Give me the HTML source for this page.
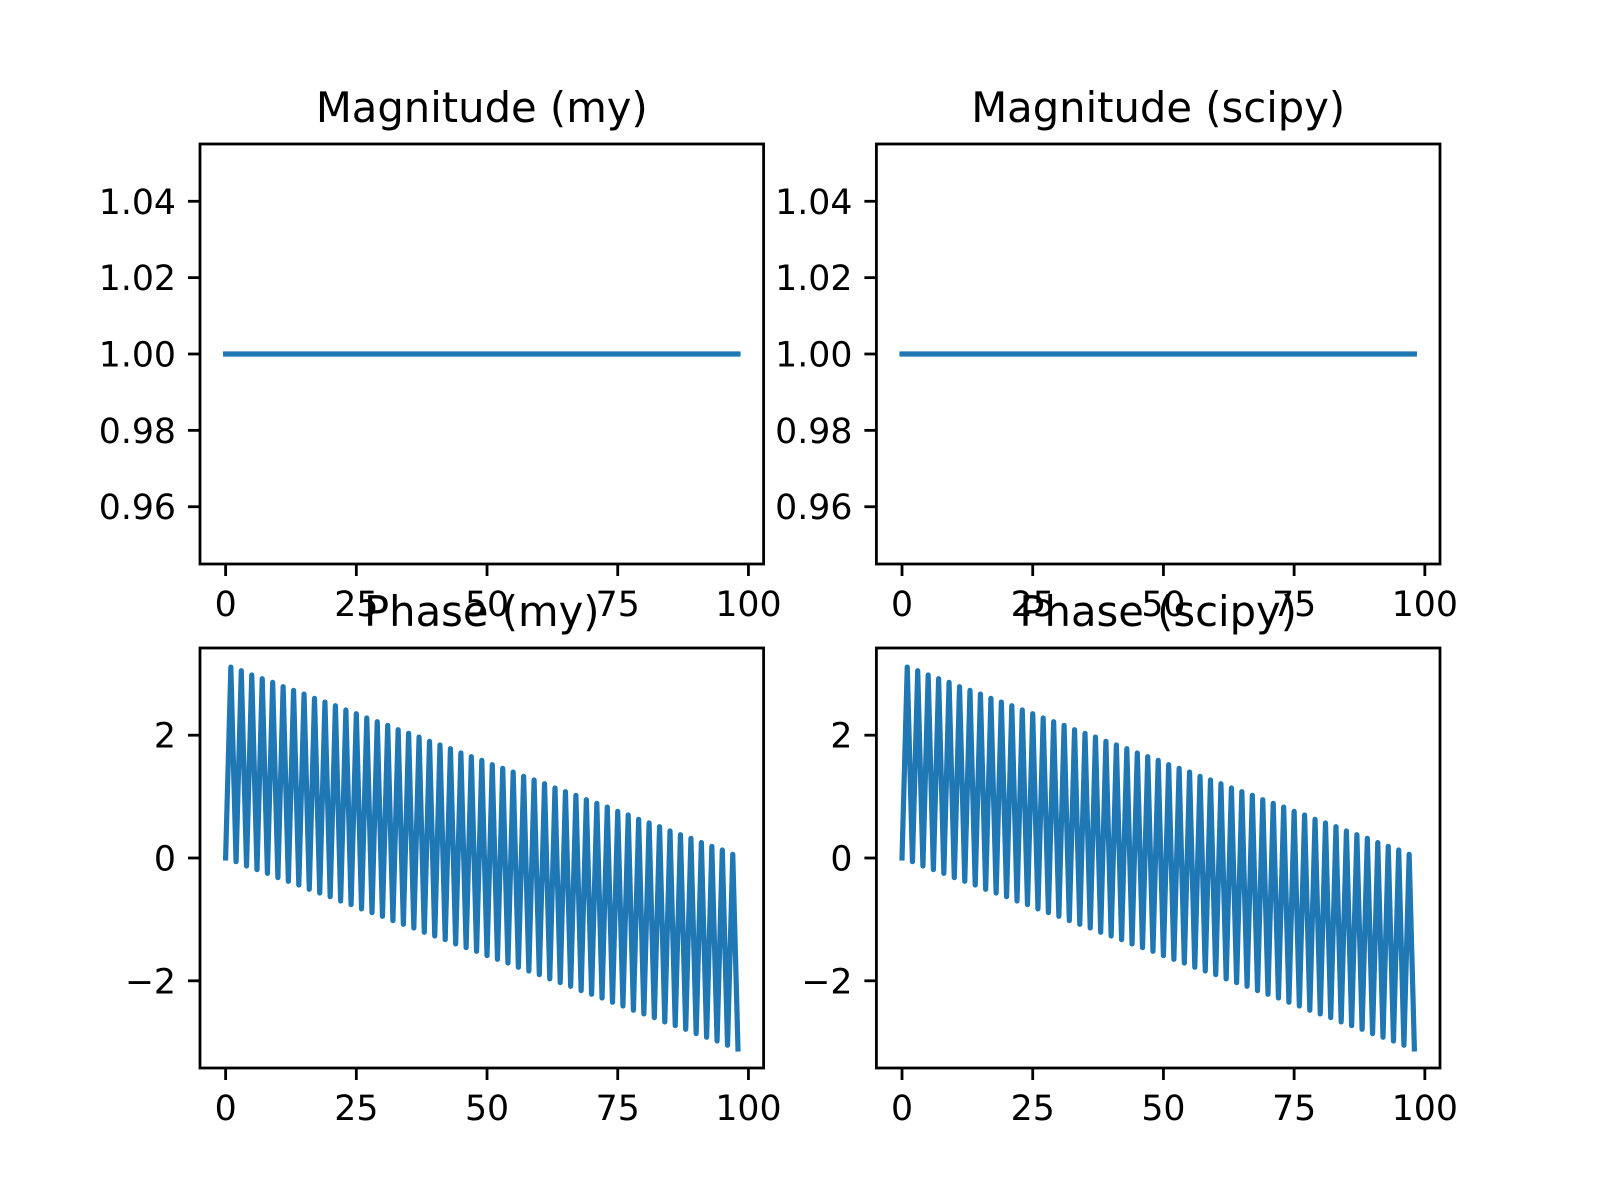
<!DOCTYPE html>
<html><head><meta charset="utf-8"><style>
html,body{margin:0;padding:0;background:#fff}
svg{display:block;font-family:"DejaVu Sans","Liberation Sans",sans-serif}
</style></head><body>
<svg id="fig" width="1600" height="1200" viewBox="0 0 1600 1200"></svg>
<script>
const xTicks = [0, 25, 50, 75, 100];
const magTicks = [0.96, 0.98, 1.00, 1.02, 1.04];
const magTickLabels = ["0.96", "0.98", "1.00", "1.02", "1.04"];
const phaseTicks = [-2, 0, 2];
const phaseTickLabels = ["\u22122", "0", "2"];
const magMy = [1,1,1,1,1,1,1,1,1,1,1,1,1,1,1,1,1,1,1,1,1,1,1,1,1,1,1,1,1,1,1,1,1,1,1,1,1,1,1,1,1,1,1,1,1,1,1,1,1,1,1,1,1,1,1,1,1,1,1,1,1,1,1,1,1,1,1,1,1,1,1,1,1,1,1,1,1,1,1,1,1,1,1,1,1,1,1,1,1,1,1,1,1,1,1,1,1,1,1];
const magScipy = [1,1,1,1,1,1,1,1,1,1,1,1,1,1,1,1,1,1,1,1,1,1,1,1,1,1,1,1,1,1,1,1,1,1,1,1,1,1,1,1,1,1,1,1,1,1,1,1,1,1,1,1,1,1,1,1,1,1,1,1,1,1,1,1,1,1,1,1,1,1,1,1,1,1,1,1,1,1,1,1,1,1,1,1,1,1,1,1,1,1,1,1,1,1,1,1,1,1,1];
const phaseEven = [0,-0.06,-0.13,-0.19,-0.25,-0.32,-0.38,-0.44,-0.51,-0.57,-0.63,-0.70,-0.76,-0.83,-0.89,-0.95,-1.02,-1.08,-1.14,-1.21,-1.27,-1.33,-1.40,-1.46,-1.52,-1.59,-1.65,-1.71,-1.78,-1.84,-1.90,-1.97,-2.03,-2.09,-2.16,-2.22,-2.28,-2.35,-2.41,-2.48,-2.54,-2.60,-2.67,-2.73,-2.79,-2.86,-2.92,-2.98,-3.05,-3.11];
const phaseOdd = [3.11,3.05,2.98,2.92,2.86,2.79,2.73,2.67,2.60,2.54,2.48,2.41,2.35,2.28,2.22,2.16,2.09,2.03,1.97,1.90,1.84,1.78,1.71,1.65,1.59,1.52,1.46,1.40,1.33,1.27,1.21,1.14,1.08,1.02,0.95,0.89,0.83,0.76,0.70,0.63,0.57,0.51,0.44,0.38,0.32,0.25,0.19,0.13,0.06];

function interleave(ev, od){ const r=[]; for(let i=0;i<ev.length+od.length;i++){ r.push(i%2===0?ev[i/2]:od[(i-1)/2]); } return r; }
const phaseMy = interleave(phaseEven, phaseOdd);
const phaseScipy = interleave(phaseEven, phaseOdd);

const NS="http://www.w3.org/2000/svg";
const svg=document.getElementById('fig');
function mk(tag, attrs, parent){ const e=document.createElementNS(NS,tag); for(const k in attrs) e.setAttribute(k,attrs[k]); (parent||svg).appendChild(e); return e; }

function panel(cfg){
  const {x0,y0,w,h,title,ys,ymin,ymax,yt,ytl,name}=cfg;
  const g=mk('g',{});
  
  
  const n=ys.length;
  const xmin=-0.05*(n-1), xmax=(n-1)*1.05;
  const sx=v=>x0+(v-xmin)/(xmax-xmin)*w;
  const sy=v=>y0+h-(v-ymin)/(ymax-ymin)*h;
  const pts=ys.map((v,i)=>sx(i).toFixed(2)+','+sy(v).toFixed(2)).join(' ');
  const line=mk('polyline',{points:pts,fill:'none',stroke:'#1f77b4','stroke-width':5.2,'stroke-linejoin':'round','stroke-linecap':'square'},g);
  
  
  const fr=mk('rect',{x:x0,y:y0,width:w,height:h,fill:'none',stroke:'#000','stroke-width':2.8},g);
  
  
  xTicks.forEach(t=>{
    const X=sx(t);
    mk('line',{x1:X,x2:X,y1:y0+h,y2:y0+h+12,stroke:'#000','stroke-width':2.8},g);
    const tx=mk('text',{x:X,y:y0+h+12+12+28,'font-size':34.7,'text-anchor':'middle',fill:'#000'},g);
    tx.textContent=String(t);
    
    
  });
  yt.forEach((t,i)=>{
    const Y=sy(t);
    mk('line',{x1:x0-12,x2:x0,y1:Y,y2:Y,stroke:'#000','stroke-width':2.8},g);
    const tx=mk('text',{x:x0-12-12,y:Y+12.5,'font-size':34.7,'text-anchor':'end',fill:'#000'},g);
    tx.textContent=ytl[i];
    
    
  });
  const tt=mk('text',{x:x0+w/2,y:y0-22,'font-size':41.7,'text-anchor':'middle',fill:'#000'},g);
  tt.textContent=title;
  
  
}
const W=563.6,H=420;
panel({x0:200,y0:144,w:W,h:H,title:'Magnitude (my)',ys:magMy,ymin:0.945,ymax:1.055,yt:magTicks,ytl:magTickLabels,name:'magnitude-my-panel'});
panel({x0:876.4,y0:144,w:W,h:H,title:'Magnitude (scipy)',ys:magScipy,ymin:0.945,ymax:1.055,yt:magTicks,ytl:magTickLabels,name:'magnitude-scipy-panel'});
panel({x0:200,y0:648,w:W,h:H,title:'Phase (my)',ys:phaseMy,ymin:-3.42,ymax:3.42,yt:phaseTicks,ytl:phaseTickLabels,name:'phase-my-panel'});
panel({x0:876.4,y0:648,w:W,h:H,title:'Phase (scipy)',ys:phaseScipy,ymin:-3.42,ymax:3.42,yt:phaseTicks,ytl:phaseTickLabels,name:'phase-scipy-panel'});
</script>
</body></html>
